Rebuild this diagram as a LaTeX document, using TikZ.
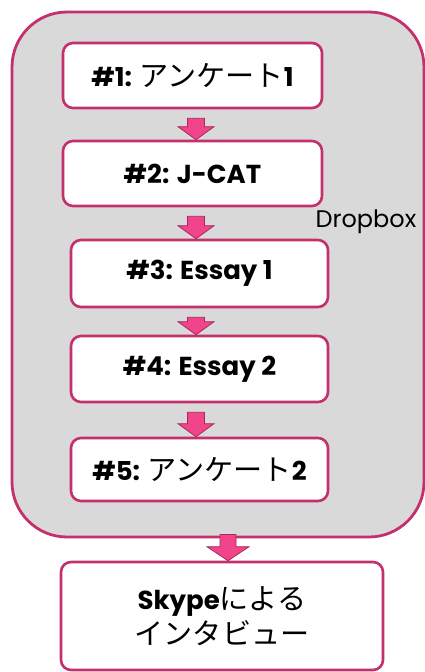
\documentclass[tikz,border=0pt]{standalone}
\usepackage{fontspec}
\setmainfont{Poppins}
\newfontfamily\jp[Scale=1.12]{Noto Sans CJK JP}
\usetikzlibrary{calc}
\definecolor{rim}{HTML}{C4306C}
\definecolor{arrfill}{HTML}{F2448A}
\definecolor{panel}{HTML}{D9D9D9}
\tikzset{
  stepbox/.style={draw=rim, line width=2.6pt, fill=white, rounded corners=10pt,
    align=center, font=\fontsize{26}{32}\selectfont\bfseries, inner sep=0pt},
  blockarr/.style={draw=rim!85!black, line width=0.8pt, fill=arrfill, line join=miter},
}
\newcommand\jtxt[1]{{\jp\mdseries #1}}
\begin{document}
\begin{tikzpicture}[x=1pt,y=-1pt]
\useasboundingbox (0,0) rectangle (425,672);
\node[draw=rim, line width=2.8pt, fill=panel, rounded corners=55pt,
  minimum width=412pt, minimum height=525pt, inner sep=0pt] (db) at (218,274.5) {};
\node[font=\fontsize{24}{28}\selectfont, anchor=base, inner sep=0pt] (lbl) at (366,227) {Dropbox};
\node[stepbox, minimum width=259pt, minimum height=65pt] (b1) at (192.5,75.5) {\#1: \jtxt{アンケート}1};
\node[stepbox, minimum width=259pt, minimum height=65pt] (b2) at (192.5,173.5) {\#2: J-CAT};
\node[stepbox, minimum width=257pt, minimum height=67pt] (b3) at (199.5,273.5) {\#3: Essay 1};
\node[stepbox, minimum width=257pt, minimum height=66pt] (b4) at (199.5,369) {\#4: Essay 2};
\node[stepbox, minimum width=257pt, minimum height=63pt] (b5) at (199.5,469.5) {\#5: \jtxt{アンケート}2};
\node[stepbox, minimum width=322pt, minimum height=108pt, font=\fontsize{26}{35}\selectfont\bfseries] (b6) at (222,616) {Skype\jtxt{による}\\ \jtxt{インタビュー}};
\coordinate (ax) at (196,0);
\coordinate (bx) at (228,0);
\newcommand\blockarrow[5]{% top, bottom, half shaft, half head, head length
  \draw[blockarr] let \p1=(#1), \p2=(#2) in
    (\x1-#3,\y1) -- (\x1+#3,\y1) -- (\x1+#3,\y2+#5) -- (\x1+#4,\y2+#5)
    -- (\x1,\y2) -- (\x1-#4,\y2+#5) -- (\x1-#3,\y2+#5) -- cycle;}
\blockarrow{$(b1.south -| ax)+(0,9)$}{b2.north -| ax}{8.5pt}{18pt}{13pt}
\blockarrow{$(b2.south -| ax)+(0,9)$}{b3.north -| ax}{8.5pt}{18pt}{13pt}
\blockarrow{$(b3.south -| ax)+(0,9)$}{b4.north -| ax}{8.5pt}{18pt}{13pt}
\blockarrow{$(b4.south -| ax)+(0,9)$}{b5.north -| ax}{8.5pt}{18pt}{13pt}
\blockarrow{$(db.south -| bx)+(0,-4)$}{b6.north -| bx}{8pt}{21pt}{14pt}
\end{tikzpicture}
\end{document}
